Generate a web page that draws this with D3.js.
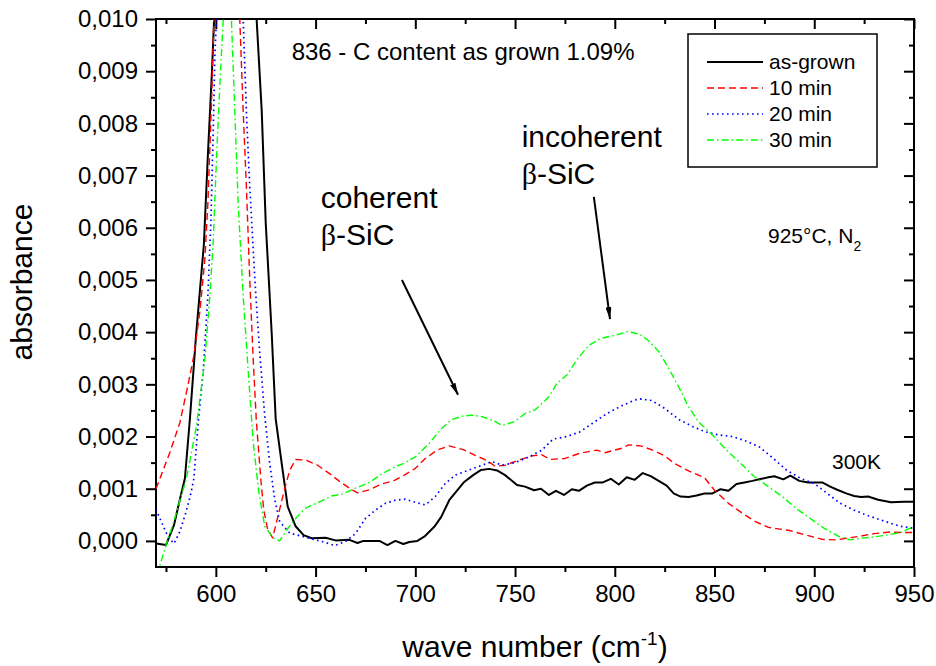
<!DOCTYPE html>
<html lang="en">
<head>
<meta charset="utf-8">
<title>absorbance 836</title>
<style>
  body { margin: 0; background: #fff; }
  svg { display: block; font-family: "Liberation Sans", Arial, sans-serif; }
  .axis line { stroke: #000; stroke-width: 2px; }
  .axis path { display: none; }
  .axis text { font-size: 24px; fill: #000; font-family: "Liberation Sans", Arial, sans-serif; }
  .frame { fill: none; stroke: #000; stroke-width: 2px; }
  .curve { fill: none; stroke-linejoin: round; }
  .note { font-size: 30px; fill: #000; }
  .small { font-size: 21px; fill: #000; }
</style>
</head>
<body>
<svg width="936" height="666"></svg>
<script src="https://d3js.org/d3.v7.min.js"></script>
<script>

// values: [wave number, absorbance x 1000]
var asGrown = [[570,-0.05],[575,-0.08],[579,0.3],[582,0.8],[584.5,1.2],[587,2.34],[590,3.9],[594,5.68],[596,7.39],[598,8.95],
  [600,10.8],[605,13],[610,14],[615,13],[620,10.3],[623,8.24],[625,6.1],[628,3.98],[630,2.34],[633,1.49],[636,0.66],[640,0.28],
  [644,0.11],[648,0.05],[655,0.06],[660,0.01],[667,0.02],[671,-0.04],[674,0],[682,0],[686,-0.08],[690,0],[694,-0.06],[697,-0.02],
  [701,0],[704.5,0.08],[709.5,0.27],[713,0.46],[717,0.78],[724.5,1.13],[729,1.26],[733,1.36],[737,1.38],[741,1.35],[745,1.26],
  [751,1.07],[755,1.04],[759.5,0.97],[763,1.0],[767,0.88],[770.5,0.96],[774.5,0.88],[778.5,0.99],[782,0.96],[786,1.06],[790,1.12],
  [794,1.12],[798,1.19],[802,1.08],[806,1.22],[810,1.17],[814,1.3],[818,1.24],[822,1.15],[826,1.06],[829.5,0.91],[833,0.85],
  [837,0.84],[841,0.87],[845,0.91],[849,0.91],[853,0.99],[857,0.96],[861,1.09],[865,1.12],[869,1.15],[873.5,1.19],[877,1.22],
  [880,1.24],[884.5,1.18],[888,1.25],[892.5,1.15],[897,1.12],[900.5,1.12],[904,1.12],[908,1.04],[911.5,0.98],[916,0.91],[920,0.86],
  [923.5,0.84],[927,0.85],[932,0.79],[938.5,0.74],[945,0.75],[950,0.75]];

var min10 = [[570,1.0],[577,1.7],[582,2.27],[586,2.98],[589,3.55],[592,4.4],[594.5,5.4],[596,6.46],[597,7.53],[598,8.6],[599,10],
  [603,12],[607,12.5],[610,11],[612,10],[613.7,8.24],[615.3,6.8],[617,5.0],[618.7,3.5],[620.3,2.3],[622.5,1.2],[624,0.6],[626,0.21],
  [628.5,0.06],[631,0.45],[634.5,1.0],[637,1.35],[640,1.56],[645,1.55],[651,1.45],[657,1.29],[662,1.14],[667,1.01],[671,0.92],
  [677,0.98],[683,1.09],[689,1.15],[694.5,1.26],[700,1.39],[705,1.58],[711,1.74],[717,1.82],[724,1.75],[730,1.64],[736,1.54],
  [740,1.43],[745,1.45],[752,1.55],[758.5,1.63],[763.5,1.65],[767.5,1.56],[775,1.58],[782.5,1.68],[791,1.74],[795,1.69],[803,1.77],
  [807,1.84],[813,1.82],[819,1.74],[825,1.63],[830,1.48],[837,1.34],[845,1.21],[850,0.97],[857,0.72],[864,0.53],[870.5,0.37],
  [877,0.26],[887.5,0.2],[896,0.11],[904,0.03],[911,0.02],[916,0.05],[923,0.09],[930,0.14],[938,0.17],[945,0.16],[950,0.16]];

var min20 = [[570,0.6],[573,0.34],[576,0.08],[579,-0.05],[582,0.18],[585,0.55],[587.5,0.91],[589,1.2],[591,2.2],[593.7,3.27],
  [596,4.69],[597.5,6.1],[598.7,7.88],[599.5,9.3],[600.3,10],[604,12.5],[608,13],[612,11],[613.7,10],[615.3,8.24],[617,6.8],
  [619.5,5.04],[622,3.6],[624.5,2.41],[627,1.49],[629.5,0.8],[632,0.37],[637,0.15],[644,0.08],[650,0.02],[655,-0.03],[659.5,-0.09],
  [665,-0.01],[670,0.14],[675,0.43],[680,0.59],[685,0.72],[690,0.78],[695,0.8],[700,0.74],[705,0.69],[710,0.85],[715,1.1],
  [720,1.26],[727,1.36],[733.5,1.45],[738.5,1.52],[743.5,1.45],[750,1.5],[757,1.61],[763.5,1.74],[769,1.95],[776,2.0],[782.5,2.09],
  [789.5,2.27],[796,2.44],[803,2.58],[810,2.7],[813,2.72],[818.5,2.69],[825,2.54],[832,2.33],[839,2.19],[845.5,2.09],[852,2.03],
  [859,2.0],[866,1.91],[872.5,1.8],[879.5,1.58],[886,1.36],[893,1.2],[900,1.1],[906.5,0.91],[913,0.72],[920,0.59],[926.5,0.49],
  [935,0.38],[943,0.28],[950,0.24]];

var min30 = [[570,-0.65],[572,-0.46],[575.3,-0.05],[578.7,0.34],[582,0.78],[585.3,1.2],[590.3,2.2],[594.5,3.48],[597,4.69],
  [598.7,5.75],[600.3,7.3],[602,8.74],[603.7,10],[605.5,10.6],[607.8,10],[609.5,8.24],[611.2,6.46],[613.7,4.69],[616.2,3.27],
  [618.7,1.9],[621.5,0.95],[624.5,0.28],[628.7,0.06],[632,0],[635.3,0.2],[640,0.43],[645,0.63],[652,0.75],[658,0.86],[663.5,0.9],
  [670,1.01],[677,1.12],[683.5,1.29],[690,1.42],[695,1.5],[700,1.61],[707,1.87],[713,2.15],[718.5,2.33],[723.5,2.39],[728.5,2.41],
  [733.5,2.38],[739.5,2.3],[743.5,2.21],[750,2.29],[755,2.44],[760,2.51],[767,2.76],[771,3.02],[776,3.18],[781,3.47],[787,3.75],
  [793,3.88],[799,3.93],[806.5,4.01],[812.5,3.96],[816.5,3.85],[822,3.63],[827,3.31],[832,2.95],[837,2.57],[842,2.28],[849,2.03],
  [856,1.74],[863,1.49],[870,1.23],[877,1.04],[884,0.85],[891,0.62],[898,0.43],[905,0.24],[912,0.09],[918,0.02],[923,0.05],
  [929,0.07],[936,0.11],[943,0.16],[948.5,0.25],[950,0.26]];

var seriesNames = ["as-grown", "10 min", "20 min", "30 min"];
var seriesData = [asGrown, min10, min20, min30];
var seriesColors = ["#000000", "#ff0000", "#0000ff", "#00ff00"];
var seriesDash = ["none", "7,4", "1.6,3.4", "7,3,1.6,3"];
var seriesWidth = [2, 1.4, 1.7, 1.4];

var xMajor = [600, 650, 700, 750, 800, 850, 900, 950];
var xMinor = [575, 625, 675, 725, 775, 825, 875, 925];
var yMajor = [0, 0.001, 0.002, 0.003, 0.004, 0.005, 0.006, 0.007, 0.008, 0.009, 0.010];
var yMinor = [0.0005, 0.0015, 0.0025, 0.0035, 0.0045, 0.0055, 0.0065, 0.0075, 0.0085, 0.0095];

var svg = d3.select("svg");
var pL = 156, pR = 914, pT = 19, pB = 567;

var x = d3.scaleLinear().domain([570, 950]).range([pL, pR]);
var y = d3.scaleLinear().domain([-0.0005, 0.010]).range([pB, pT]);

var yFmt = function(d) { return d3.format(".3f")(d).replace(".", ","); };

// axes: outer ticks at bottom/left, inner ticks at top/right
svg.append("g").attr("class", "axis").attr("transform", "translate(0," + pB + ")")
   .call(d3.axisBottom(x).tickValues(xMajor).tickSize(10).tickPadding(8).tickSizeOuter(0));
svg.append("g").attr("class", "axis").attr("transform", "translate(0," + pB + ")")
   .call(d3.axisBottom(x).tickValues(xMinor).tickSize(5).tickFormat("").tickSizeOuter(0));
svg.append("g").attr("class", "axis").attr("transform", "translate(0," + pT + ")")
   .call(d3.axisTop(x).tickValues(xMajor).tickSize(-10).tickFormat("").tickSizeOuter(0));
svg.append("g").attr("class", "axis").attr("transform", "translate(0," + pT + ")")
   .call(d3.axisTop(x).tickValues(xMinor).tickSize(-5).tickFormat("").tickSizeOuter(0));

svg.append("g").attr("class", "axis").attr("transform", "translate(" + pL + ",0)")
   .call(d3.axisLeft(y).tickValues(yMajor).tickSize(10).tickPadding(8).tickFormat(yFmt).tickSizeOuter(0));
svg.append("g").attr("class", "axis").attr("transform", "translate(" + pL + ",0)")
   .call(d3.axisLeft(y).tickValues(yMinor).tickSize(5).tickFormat("").tickSizeOuter(0));
svg.append("g").attr("class", "axis").attr("transform", "translate(" + pR + ",0)")
   .call(d3.axisRight(y).tickValues(yMajor).tickSize(-10).tickFormat("").tickSizeOuter(0));
svg.append("g").attr("class", "axis").attr("transform", "translate(" + pR + ",0)")
   .call(d3.axisRight(y).tickValues(yMinor).tickSize(-5).tickFormat("").tickSizeOuter(0));

svg.append("rect").attr("class", "frame")
   .attr("x", pL).attr("y", pT).attr("width", pR - pL).attr("height", pB - pT);

// curves
svg.append("clipPath").attr("id", "plotclip").append("rect")
   .attr("x", pL).attr("y", pT).attr("width", pR - pL).attr("height", pB - pT);

var line = d3.line()
   .x(function(d) { return x(d[0]); })
   .y(function(d) { return y(d[1] / 1000); });

svg.append("g").attr("clip-path", "url(#plotclip)")
   .selectAll("path.curve")
   .data(seriesData)
   .enter()
   .append("path")
   .attr("class", "curve")
   .attr("d", line)
   .attr("stroke", function(d, i) { return seriesColors[i]; })
   .attr("stroke-width", function(d, i) { return seriesWidth[i]; })
   .attr("stroke-dasharray", function(d, i) { return seriesDash[i]; });

// legend
var lg = svg.append("g");
lg.append("rect").attr("x", 688).attr("y", 34).attr("width", 189).attr("height", 133)
  .attr("fill", "#fff").attr("stroke", "#000").attr("stroke-width", 1.5);
seriesNames.forEach(function(name, i) {
    var yy = 68.5 + i * 26;
    lg.append("line").attr("x1", 707).attr("x2", 763).attr("y1", yy - 6.5).attr("y2", yy - 6.5)
      .attr("stroke", seriesColors[i]).attr("stroke-width", seriesWidth[i])
      .attr("stroke-dasharray", seriesDash[i]);
    lg.append("text").attr("class", "small").attr("x", 769).attr("y", yy).text(name);
});

// annotations, placed in data units
svg.append("text").attr("x", x(638)).attr("y", y(0.00922))
   .style("font-size", "24px").text("836 - C content as grown 1.09%");

function twoLines(w, a1, a2, word) {
    var t = svg.append("g");
    t.append("text").attr("class", "note").attr("x", x(w)).attr("y", y(a1)).text(word);
    var b = t.append("text").attr("class", "note").attr("x", x(w)).attr("y", y(a2));
    b.append("tspan").style("font-family", "'Liberation Serif', 'Times New Roman', serif").text("\u03b2");
    b.append("tspan").text("-SiC");
}
twoLines(652.6, 0.00637, 0.00567, "coherent");
twoLines(753.3, 0.00755, 0.00684, "incoherent");

svg.append("defs").append("marker")
   .attr("id", "head").attr("viewBox", "0 0 12 6").attr("refX", 12).attr("refY", 3)
   .attr("markerWidth", 12).attr("markerHeight", 6).attr("markerUnits", "userSpaceOnUse")
   .attr("orient", "auto")
   .append("path").attr("d", "M0,0 L12,3 L0,6 Z").attr("fill", "#000");

var arrows = [[693.3, 0.0050, 721.4, 0.0028], [789.5, 0.00659, 797.6, 0.00425]];
svg.selectAll("line.arrow").data(arrows).enter().append("line")
   .attr("class", "arrow")
   .attr("x1", function(d) { return x(d[0]); }).attr("y1", function(d) { return y(d[1]); })
   .attr("x2", function(d) { return x(d[2]); }).attr("y2", function(d) { return y(d[3]); })
   .attr("stroke", "#000").attr("stroke-width", 2).attr("marker-end", "url(#head)");

var cond = svg.append("text").attr("class", "small").attr("x", x(876.8)).attr("y", y(0.0057));
cond.append("tspan").text("925\u00b0C, N");
cond.append("tspan").attr("dy", 8).style("font-size", "14px").text("2");

svg.append("text").attr("class", "small").attr("x", x(908.9)).attr("y", y(0.00138)).text("300K");

// axis titles
svg.append("text").attr("transform", "translate(32,282) rotate(-90)")
   .attr("text-anchor", "middle").style("font-size", "30px").text("absorbance");

var xt = svg.append("text").attr("x", (pL + pR) / 2).attr("y", 657)
   .attr("text-anchor", "middle").style("font-size", "30px");
xt.append("tspan").text("wave number (cm");
xt.append("tspan").attr("dy", -12).style("font-size", "19px").text("-1");
xt.append("tspan").attr("dy", 12).text(")");

</script>
</body>
</html>
